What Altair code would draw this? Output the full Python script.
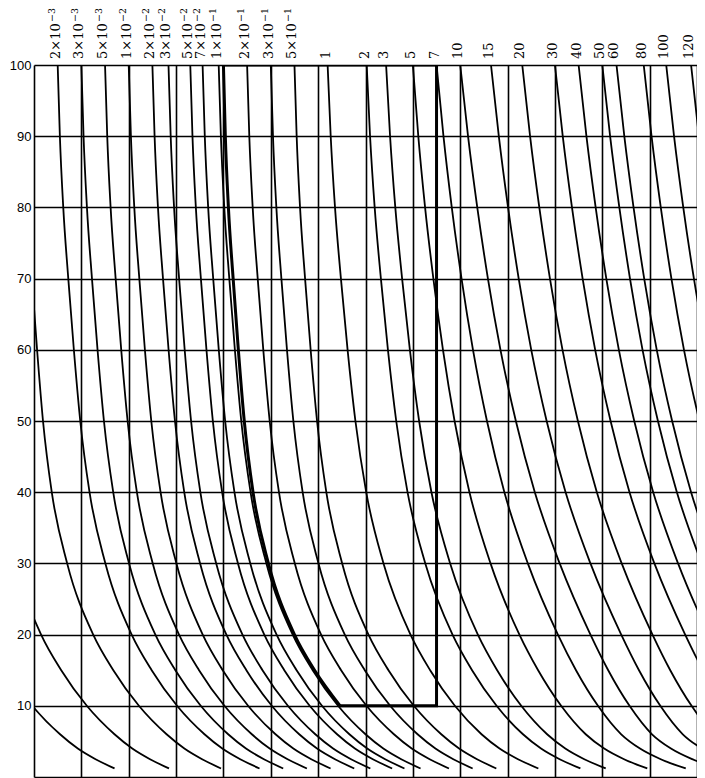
import altair as alt
import pandas as pd

# ---- data ----
label_base = ["2×10", "3×10", "5×10", "1×10", "2×10", "3×10", "5×10", "7×10",
              "1×10", "2×10", "3×10", "5×10", "1", "2", "3", "5", "7", "10", "15", "20",
              "30", "40", "50", "60", "80", "100", "120"]
label_exp = ["−3", "−3", "−3", "−2", "−2", "−2", "−2", "−2",
             "−1", "−1", "−1", "−1", "", "", "", "", "", "", "", "",
             "", "", "", "", "", "", ""]
# start of each curve on the 100 line (grid-column units, 0..28)
starts = [1.0, 2.0, 3.0, 4.0, 5.0, 5.68, 6.6, 7.12, 7.8, 9.0, 10.0, 11.0, 12.4, 14.05,
          14.87, 16.0, 17.0, 18.0, 19.3, 20.62, 22.0, 23.0, 24.0, 24.6, 25.75, 26.7, 27.75]
# how far each curve leans toward the wide (right-hand) shape: 0 = narrow, 1 = wide
blend = [0.05, 0.05, 0.05, 0.05, 0.05, 0.05, 0.05, 0.05, 0.05, 0.05, 0.05, 0.05, 0.2, 0.25,
         0.35, 0.6, 0.85, 1.0, 1.0, 1.0, 1.0, 1.0, 1.0, 1.0, 1.0, 1.0, 1.0]
# unlabeled curves entering across the left edge
extra_starts = [-0.5, -2.7, -5.0]
extra_blend = [0.0, 0.0, 0.0]

# value levels along a curve, and distance from the start (columns) for the
# narrow (left-hand) and wide (right-hand) curve shapes
levels = [100, 90, 80, 70, 60, 50, 40, 30, 20, 15, 10, 6, 4, 2.5, 1.2]
dx_narrow = [0, 0.08, 0.21, 0.41, 0.63, 0.88, 1.25, 1.9, 3.0, 3.85, 4.93, 6.1, 6.85, 7.6, 8.4]
dx_wide = [0, 0.33, 0.72, 1.17, 1.7, 2.35, 3.15, 4.2, 5.5, 6.25, 7.15, 8.1, 8.9, 9.8, 10.9]

# worked example (bold)
ex_start = 8.0
ex_right = 17.0
ex_level = 10

n_cols = 28

# ---- tables ----
rows = []
for cid, (s, b) in enumerate(zip(starts + extra_starts, blend + extra_blend)):
    for v, a, w in zip(levels, dx_narrow, dx_wide):
        rows.append({"c": cid, "x": s + (1 - b) * a + b * w, "y": v})
curves = pd.DataFrame(rows)

ex_rows = [{"x": ex_start + a, "y": v} for v, a in zip(levels, dx_narrow) if v >= ex_level]
ex_curve = pd.DataFrame(ex_rows)
ex_end_x = ex_rows[-1]["x"]
box = pd.DataFrame({"x": [ex_start, ex_right, ex_right, ex_end_x],
                    "y": [100, 100, ex_level, ex_level], "o": [0, 1, 2, 3]})

lab = pd.DataFrame({"x": starts, "t": label_base, "e": label_exp})

xs = alt.Scale(domain=[0, n_cols], nice=False, zero=False)
ys = alt.Scale(domain=[0, 100], nice=False)

x_axis = alt.Axis(values=list(range(0, n_cols + 1)), grid=True, labels=False, ticks=False,
                  domain=False, title=None, gridColor="black", gridWidth=1.6, gridOpacity=1)
y_axis = alt.Axis(values=list(range(0, 101, 5)), grid=True, ticks=False, domain=False,
                  title=None, gridColor="black", gridWidth=1.6, gridOpacity=1,
                  labelExpr="datum.value % 10 == 0 && datum.value > 0 ? datum.label : ''",
                  labelFont="Liberation Sans", labelFontSize=13, labelColor="black",
                  labelPadding=3)

lines = alt.Chart(curves).mark_line(clip=True, color="black", strokeWidth=1.8,
                                    interpolate="monotone").encode(
    x=alt.X("x:Q", scale=xs, axis=x_axis),
    y=alt.Y("y:Q", scale=ys, axis=y_axis),
    detail="c:N",
)

ex = alt.Chart(ex_curve).mark_line(clip=True, color="black", strokeWidth=3,
                                   interpolate="monotone").encode(
    x=alt.X("x:Q", scale=xs), y=alt.Y("y:Q", scale=ys))

boxl = alt.Chart(box).mark_line(clip=True, color="black", strokeWidth=3).encode(
    x=alt.X("x:Q", scale=xs), y=alt.Y("y:Q", scale=ys), order="o:Q")

text = alt.Chart(lab).mark_text(angle=270, align="left", baseline="middle", dy=-2,
                                font="DejaVu Serif", fontSize=13, color="black").encode(
    x=alt.X("x:Q", scale=xs), y=alt.value(-6), text="t:N")

expo = alt.Chart(lab).mark_text(angle=270, align="left", baseline="middle", dx=37, dy=-6,
                                font="DejaVu Serif", fontSize=9.5, color="black").encode(
    x=alt.X("x:Q", scale=xs), y=alt.value(-6), text="e:N")

chart = alt.layer(lines, ex, boxl, text, expo).properties(
    width=663, height=712,
    autosize=alt.AutoSizeParams(type="none"),
    padding={"left": 26, "top": 57, "right": 0, "bottom": 1},
).configure_view(stroke=None)

chart.save("out.html", embed_options={"renderer": "svg", "actions": False})
